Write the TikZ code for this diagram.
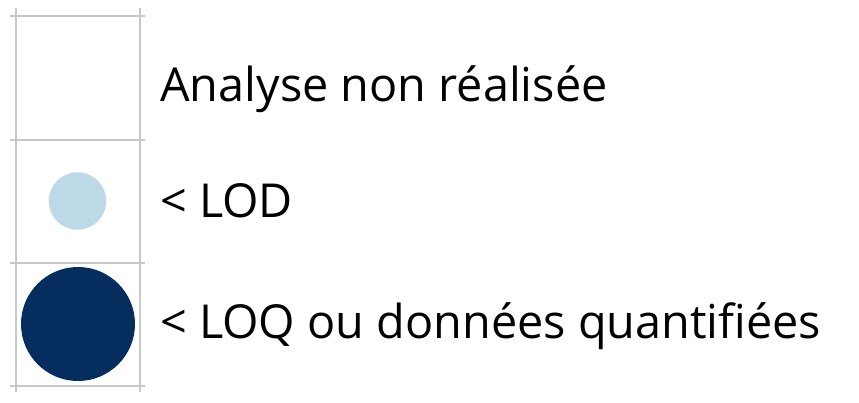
\documentclass[tikz,border=0pt]{standalone}
\usepackage{fontspec}
\setmainfont{Open Sans}
\definecolor{gridc}{HTML}{C8C8C8}
\definecolor{lightb}{HTML}{BDD9E8}
\definecolor{darkb}{HTML}{052D5E}
\begin{document}
\begin{tikzpicture}[x=1pt,y=-1pt,
  gridline/.style={draw=gridc,line width=2pt},
  lbl/.style={anchor=base west,inner sep=0pt,font=\fontsize{46.8}{56}\selectfont}]
\useasboundingbox[fill=white] (0,0) rectangle (859,402);
% grid
\coordinate (v1t) at (15.5,8); \coordinate (v1b) at (15.5,392);
\coordinate (v2t) at (139.5,8); \coordinate (v2b) at (139.5,392);
\draw[gridline] (v1t) -- (v1b);
\draw[gridline] (v2t) -- (v2b);
\foreach \yy/\nm in {16/h1,139.5/h2,263/h3,386/h4}{
  \coordinate (\nm l) at (10,\yy); \coordinate (\nm r) at (145,\yy);
  \draw[gridline] (\nm l) -- (\nm r);
}
% circles
\node[circle,fill=lightb,minimum size=57.5pt,inner sep=0pt] (lod) at (77.5,201) {};
\node[circle,fill=darkb,minimum size=114pt,inner sep=0pt] (loq) at (78,324) {};
% labels
\node[lbl] (t1) at (160,101) {Analyse non réalisée};
\node[lbl] (t2) at (160,217) {< LOD};
\node[lbl] (t3) at (160,338) {< LOQ ou données quantifiées};
\end{tikzpicture}
\end{document}
